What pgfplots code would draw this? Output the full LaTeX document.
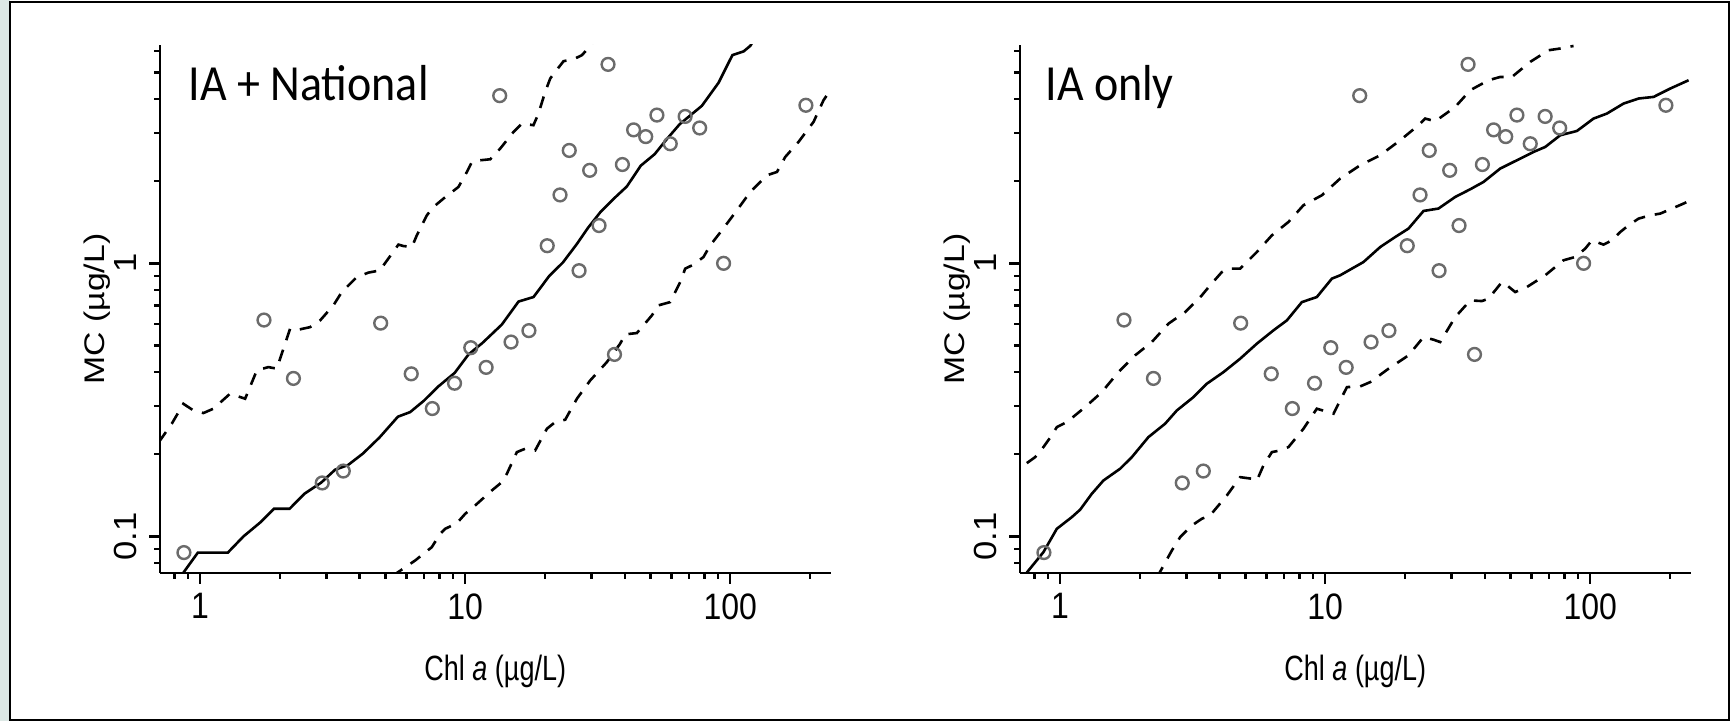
\documentclass[border=0pt]{standalone}
\usepackage{graphicx}
\usepackage{fontspec}
\setmainfont{Liberation Sans}
\newfontfamily\carlito{Carlito}
\usepackage{pgfplots}
\usepackage{pgfplotstable}
\pgfplotsset{compat=1.18}
\definecolor{circgray}{HTML}{6B6B6B}
\definecolor{stripc}{HTML}{DDE8E5}

\pgfplotstableread{
x y
0.869 0.0873
1.742 0.620
2.25 0.379
2.89 0.157
3.47 0.1736
4.80 0.604
6.26 0.394
7.52 0.294
9.12 0.364
10.5 0.491
12.0 0.416
13.5 4.11
14.9 0.515
17.4 0.567
20.4 1.16
22.8 1.78
24.7 2.59
26.9 0.940
29.5 2.19
32.0 1.375
34.6 5.35
36.6 0.464
39.2 2.30
43.2 3.08
48.0 2.91
52.9 3.49
59.4 2.74
67.6 3.45
76.7 3.13
94.4 1.00
193 3.79
}\ptsdata

\newcommand{\hx}[1]{\scalebox{1}[1.15]{#1}}
\newcommand{\vy}[1]{\scalebox{1.08}[1]{#1}}
\newcommand{\xlab}{\scalebox{1}[1.3]{Chl \textit{a} (µg/L)}}
\newcommand{\ylab}{\scalebox{1.25}[1.05]{MC (µg/L)}}

\begin{document}
\begin{tikzpicture}
\path[use as bounding box] (0,0) rectangle (866.5pt,360.5pt);
\fill[white] (0,0) rectangle (866.5pt,360.5pt);
\fill[stripc] (0,0) rectangle (5pt,360.5pt);
\draw[line width=1pt, black] (5pt,0.5pt) rectangle (864.5pt,359.5pt);

% ---------- Left panel: IA + National ----------
\begin{axis}[
    at={(80pt,74pt)}, anchor=south west,
    scale only axis, width=335.25pt, height=264pt,
    xmode=log, ymode=log,
    xmin=0.706, xmax=239, ymin=0.0735, ymax=6.3,
    axis lines=left,
    axis line style={-, line width=1.2pt, black},
    tick align=outside,
    major tick length=5.5pt, minor tick length=3pt,
    tick style={line width=1.2pt, black},
    xtick={1,10,100}, xticklabels={\hx{1},\hx{10},\hx{100}},
    minor xtick={0.8,0.9,2,3,4,5,6,7,8,9,20,30,40,50,60,70,80,90,200},
    ytick={0.1,1}, yticklabels={\vy{0.1},\vy{1}},
    minor ytick={0.08,0.09,0.2,0.3,0.4,0.5,0.6,0.7,0.8,0.9,2,3,4,5,6},
    tick label style={font=\fontsize{16}{18}\selectfont},
    xticklabel style={anchor=north, inner sep=2pt, outer ysep=2.8pt},
    yticklabel style={rotate=90, anchor=south, inner sep=2pt, outer ysep=4.3pt},
    label style={font=\fontsize{13.5}{16}\selectfont},
    xlabel={\xlab},
    ylabel={\ylab},
    xlabel style={at={(axis description cs:0.5,-0.1856)}, anchor=center},
    ylabel style={at={(axis description cs:-0.094,0.5)}, anchor=center},
  ]
\addplot[only marks, mark=o, mark size=3.2pt, color=circgray, line width=1.2pt] table[x=x,y=y] {\ptsdata};
\addplot[black, line width=1.3pt, mark=none] coordinates {
(0.85,0.072) (0.981,0.0873) (1.273,0.0873) (1.457,0.1) (1.684,0.1124) (1.900,0.1263)
(2.176,0.1263) (2.479,0.1435) (2.864,0.1575) (3.232,0.1756) (3.612,0.1825) (4.115,0.2012)
(4.754,0.2305) (5.576,0.2745) (6.201,0.2853) (6.997,0.3144) (7.895,0.3532) (9.125,0.3969)
(10.29,0.4636) (11.61,0.5107) (13.75,0.5967) (15.90,0.7245) (18.11,0.7528) (20.73,0.8971)
(23.39,1.008) (26.39,1.177) (29.06,1.348) (32.47,1.545) (36.64,1.736) (40.75,1.912)
(45.98,2.278) (51.88,2.510) (57.13,2.820) (64.46,3.231) (78.19,3.773) (90.36,4.582)
(101.9,5.784) (112.3,5.968) (119.0,6.252) (122,6.5)
};
\addplot[black, line width=1.3pt, mark=none, dash pattern=on 6pt off 5pt] coordinates {
(0.70,0.222) (0.782,0.2587) (0.865,0.306) (0.943,0.2895) (1.029,0.283) (1.123,0.2937)
(1.298,0.3333) (1.479,0.3194) (1.637,0.4055) (1.810,0.417) (1.947,0.4114) (2.186,0.5766)
(2.350,0.5716) (2.60,0.584) (2.837,0.618) (3.184,0.7018) (3.425,0.785) (3.903,0.891)
(4.316,0.9246) (4.778,0.9427) (4.918,0.983) (5.602,1.171) (5.851,1.157) (6.295,1.147)
(6.572,1.266) (7.17,1.499) (7.593,1.608) (8.283,1.726) (9.434,1.904) (10.15,2.16)
(10.60,2.35) (11.39,2.384) (12.43,2.404) (13.56,2.631) (15.22,3.027) (16.37,3.25)
(18.10,3.204) (18.91,3.535) (20.04,4.242) (20.94,4.749) (21.86,5.021) (23.5,5.495)
(25.63,5.588) (27.57,5.78) (29.64,6.25) (30.5,6.5)
};
\addplot[black, line width=1.3pt, mark=none, dash pattern=on 6pt off 5pt] coordinates {
(5.3,0.072) (5.49,0.0732) (6.48,0.0817) (7.486,0.0914) (8.05,0.1023) (8.41,0.1067) (9.30,0.1118)
(10.0,0.121) (10.91,0.1299) (12.61,0.1474) (13.76,0.1581) (14.37,0.1697) (15.67,0.2036)
(16.84,0.2095) (18.37,0.2065) (20.34,0.248) (21.86,0.2622) (23.85,0.2676) (26.4,0.3194)
(29.64,0.3727) (34.25,0.4349) (38.45,0.5081) (40.16,0.5495) (44.45,0.5556) (50.64,0.6448)
(53.62,0.7018) (59.37,0.7213) (64.77,0.854) (67.64,0.9563) (72.69,0.989) (79.29,1.0546)
(84.05,1.164) (93.05,1.321) (106.0,1.564) (119.0,1.825) (137.6,2.101) (150.1,2.16)
(161.3,2.452) (181.0,2.782) (206.2,3.293) (224.9,3.955) (238.5,4.303) (245,4.45)
};
\node[font=\carlito\fontsize{23}{26}\selectfont, anchor=base west, inner sep=0pt]
  at (axis description cs:0.0422,0.8958) {\scalebox{1}[1.1]{IA + National}};
\end{axis}

% ---------- Right panel: IA only ----------
\begin{axis}[
    at={(510pt,74pt)}, anchor=south west,
    scale only axis, width=335.25pt, height=264pt,
    xmode=log, ymode=log,
    xmin=0.706, xmax=239, ymin=0.0735, ymax=6.3,
    axis lines=left,
    axis line style={-, line width=1.2pt, black},
    tick align=outside,
    major tick length=5.5pt, minor tick length=3pt,
    tick style={line width=1.2pt, black},
    xtick={1,10,100}, xticklabels={\hx{1},\hx{10},\hx{100}},
    minor xtick={0.8,0.9,2,3,4,5,6,7,8,9,20,30,40,50,60,70,80,90,200},
    ytick={0.1,1}, yticklabels={\vy{0.1},\vy{1}},
    minor ytick={0.08,0.09,0.2,0.3,0.4,0.5,0.6,0.7,0.8,0.9,2,3,4,5,6},
    tick label style={font=\fontsize{16}{18}\selectfont},
    xticklabel style={anchor=north, inner sep=2pt, outer ysep=2.8pt},
    yticklabel style={rotate=90, anchor=south, inner sep=2pt, outer ysep=4.3pt},
    label style={font=\fontsize{13.5}{16}\selectfont},
    xlabel={\xlab},
    ylabel={\ylab},
    xlabel style={at={(axis description cs:0.5,-0.1856)}, anchor=center},
    ylabel style={at={(axis description cs:-0.094,0.5)}, anchor=center},
  ]
\addplot[only marks, mark=o, mark size=3.2pt, color=circgray, line width=1.2pt] table[x=x,y=y] {\ptsdata};
\addplot[black, line width=1.3pt, mark=none] coordinates {
(0.744,0.0732) (0.865,0.0876) (0.972,0.1067) (1.107,0.1177) (1.190,0.1253) (1.317,0.1433)
(1.457,0.1603) (1.684,0.177) (1.865,0.1952) (2.154,0.2311) (2.490,0.2587) (2.757,0.2893)
(3.184,0.3237) (3.578,0.3625) (4.133,0.3997) (4.778,0.4475) (5.525,0.5081) (6.381,0.5683)
(7.17,0.6181) (8.17,0.7213) (9.30,0.7525) (10.60,0.879) (11.39,0.904) (13.95,1.011)
(16.13,1.147) (18.37,1.248) (20.62,1.340) (23.50,1.555) (26.76,1.587) (30.95,1.750)
(35.26,1.867) (39.57,1.986) (45.75,2.223) (52.88,2.384) (61.09,2.557) (67.64,2.667)
(77.08,2.944) (89.1,3.052) (102.9,3.388) (115.6,3.535) (133.6,3.846) (152.2,4.012)
(173.4,4.067) (200.4,4.364) (235,4.68)
};
\addplot[black, line width=1.3pt, mark=none, dash pattern=on 6pt off 5pt] coordinates {
(0.749,0.1856) (0.805,0.1952) (0.865,0.2124) (0.930,0.2344) (0.972,0.2514) (1.060,0.2622)
(1.243,0.2976) (1.437,0.3378) (1.660,0.3997) (1.919,0.4603) (2.218,0.5149) (2.563,0.6013)
(2.963,0.6632) (3.425,0.7634) (3.681,0.8307) (4.076,0.929) (4.316,0.9563) (4.778,0.9563)
(5.525,1.100) (6.295,1.266) (7.269,1.417) (8.283,1.632) (9.716,1.775) (11.39,2.043)
(13.56,2.286) (16.13,2.487) (19.19,2.822) (22.50,3.204) (23.85,3.388) (26.02,3.312)
(30.95,3.737) (35.26,4.303) (41.33,4.68) (45.75,4.812) (50.64,4.812) (59.37,5.463)
(69.6,6.028) (77.08,6.116) (86.5,6.25)
};
\addplot[black, line width=1.3pt, mark=none, dash pattern=on 6pt off 5pt] coordinates {
(2.30,0.071) (2.364,0.0732) (2.639,0.0888) (2.837,0.0994) (3.141,0.1097) (3.425,0.1161) (3.681,0.1194)
(4.257,0.1413) (4.778,0.1649) (5.290,0.1627) (5.525,0.1603) (5.851,0.182) (6.295,0.2036)
(6.765,0.2065) (7.269,0.2124) (8.283,0.248) (9.30,0.2936) (10.29,0.2853) (10.75,0.2815)
(12.08,0.3523) (13.56,0.3544) (14.79,0.3674) (17.34,0.4114) (20.62,0.4603) (23.50,0.537)
(25.63,0.5254) (27.16,0.5149) (30.95,0.6357) (35.26,0.7318) (39.03,0.7275) (41.33,0.7424)
(46.44,0.854) (48.51,0.8307) (52.12,0.785) (57.69,0.8188) (67.64,0.904) (79.29,1.026)
(87.77,1.055) (95.75,1.132) (101.5,1.214) (112.2,1.171) (120.8,1.214) (129.8,1.302)
(139.5,1.378) (152.2,1.458) (168.5,1.499) (183.8,1.521) (224.9,1.655) (234.4,1.687)
};
\node[font=\carlito\fontsize{23}{26}\selectfont, anchor=base west, inner sep=0pt]
  at (axis description cs:0.0373,0.8958) {\scalebox{1}[1.1]{IA only}};
\end{axis}
\end{tikzpicture}
\end{document}
